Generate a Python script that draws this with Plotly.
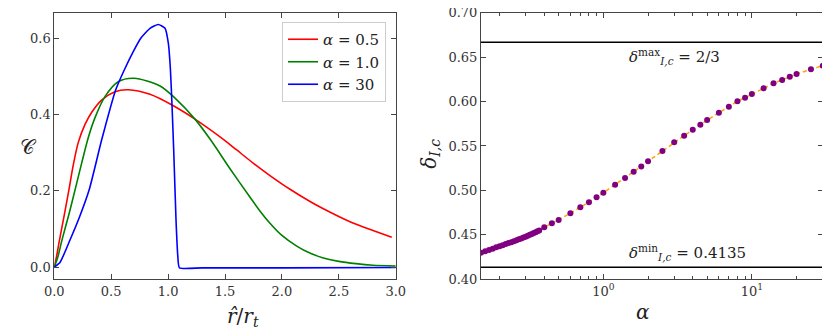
import plotly.graph_objects as go

# left panel: C(r/r_t) for three alpha values
r_05 = [0.0, 0.02, 0.044, 0.088, 0.129, 0.167, 0.211, 0.27, 0.329, 0.416, 0.533, 0.65, 0.841,
        1.046, 1.236, 1.494, 1.603, 1.75, 1.895, 2.071, 2.247, 2.364, 2.598, 2.8, 2.965]
c_05 = [0.0, 0.028, 0.068, 0.137, 0.203, 0.268, 0.327, 0.374, 0.406, 0.438, 0.460, 0.465, 0.453,
        0.423, 0.388, 0.333, 0.307, 0.272, 0.240, 0.204, 0.172, 0.153, 0.119, 0.096, 0.078]

r_10 = [0.0, 0.03, 0.065, 0.13, 0.188, 0.24, 0.299, 0.358, 0.445, 0.562, 0.70, 0.929, 1.061,
        1.236, 1.37, 1.544, 1.72, 1.81, 1.895, 2.0, 2.13, 2.25, 2.364, 2.5, 2.65, 2.8, 3.0]
c_10 = [0.0, 0.025, 0.068, 0.140, 0.209, 0.272, 0.340, 0.392, 0.447, 0.486, 0.495, 0.475, 0.443,
        0.388, 0.335, 0.258, 0.183, 0.146, 0.115, 0.083, 0.055, 0.036, 0.024, 0.015, 0.009,
        0.005, 0.003]

r_30 = [0.0, 0.05, 0.138, 0.22, 0.308, 0.416, 0.54, 0.62, 0.694, 0.76, 0.841, 0.914, 0.973,
        1.002, 1.02, 1.035, 1.05, 1.07, 1.085, 1.10, 1.3, 2.0, 3.0]
c_30 = [0.0, 0.012, 0.071, 0.130, 0.204, 0.333, 0.465, 0.520, 0.565, 0.600, 0.626, 0.636, 0.626,
        0.587, 0.52, 0.42, 0.30, 0.12, 0.03, -0.002, -0.002, -0.002, -0.001]

# right panel: delta_{I,c} vs alpha
alpha = [0.15, 0.16, 0.17, 0.18, 0.19, 0.20, 0.21, 0.22, 0.23, 0.24, 0.25, 0.26, 0.27, 0.28,
         0.29, 0.30, 0.31, 0.32, 0.33, 0.34, 0.35, 0.36, 0.37,
         0.4, 0.45, 0.5, 0.6, 0.7, 0.8, 0.9, 1.0, 1.2, 1.4, 1.6, 1.8, 2.0, 2.5, 3.0, 3.5,
         4.0, 4.5, 5.0, 6.0, 7.0, 8.0, 9.0, 10.0, 12.0, 14.0, 16.0, 18.0, 20.0, 25.0, 30.0]
delta = [0.4300, 0.4315, 0.4330, 0.4345, 0.4360, 0.4372, 0.4384, 0.4396, 0.4407, 0.4418,
         0.4429, 0.4440, 0.4450, 0.4460, 0.4470, 0.4480, 0.4490, 0.4500, 0.4510, 0.4520,
         0.4530, 0.4540, 0.4550,
         0.4585, 0.4630, 0.4668, 0.4743, 0.4810, 0.4866, 0.4923, 0.4975, 0.5065, 0.5140,
         0.5210, 0.5270, 0.5328, 0.5444, 0.5541, 0.5616, 0.5684, 0.5740, 0.5793, 0.5875,
         0.5943, 0.6003, 0.6044, 0.6085, 0.6149, 0.6205, 0.6243, 0.6280, 0.6310, 0.6363, 0.6404]
delta_max = 2 / 3
delta_min = 0.4135

FONT = "DejaVu Serif"

fig = go.Figure()
fig.add_trace(go.Scatter(x=r_05, y=c_05, mode="lines", name="<i>α</i> = 0.5",
                         line=dict(color="#ff0000", width=1.6, shape="spline", smoothing=0.8)))
fig.add_trace(go.Scatter(x=r_10, y=c_10, mode="lines", name="<i>α</i> = 1.0",
                         line=dict(color="#008000", width=1.6, shape="spline", smoothing=0.8)))
fig.add_trace(go.Scatter(x=r_30, y=c_30, mode="lines", name="<i>α</i> = 30",
                         line=dict(color="#0000ff", width=1.6, shape="spline", smoothing=0.5)))

fig.add_trace(go.Scatter(x=alpha, y=delta, mode="lines", showlegend=False,
                         line=dict(color="#ffa500", width=1.5, dash="4px,3px"),
                         xaxis="x2", yaxis="y2"))
fig.add_trace(go.Scatter(x=alpha, y=delta, mode="markers", showlegend=False,
                         marker=dict(color="#800080", size=6),
                         xaxis="x2", yaxis="y2"))
for v in (delta_max, delta_min):
    fig.add_trace(go.Scatter(x=[0.15, 30], y=[v, v], mode="lines", showlegend=False,
                             line=dict(color="black", width=1.6),
                             xaxis="x2", yaxis="y2"))

axis = dict(showline=True, linecolor="#444", linewidth=1, mirror="ticks", automargin=False,
            ticks="inside", ticklen=5, tickcolor="#444", showgrid=False, zeroline=False,
            ticklabeloverflow="allow",
            tickfont=dict(family=FONT, size=13, color="#333"))

minor_log = [0.2, 0.3, 0.4, 0.5, 0.6, 0.7, 0.8, 0.9, 2, 3, 4, 5, 6, 7, 8, 9, 20, 30]

# the page body has an 8px margin, so the figure is 822x324 starting at (8, 8)
fig.update_layout(
    width=822, height=324,
    margin=dict(l=0, r=0, t=0, b=0),
    plot_bgcolor="white", paper_bgcolor="white",
    font=dict(family=FONT, color="#222"),
    xaxis=dict(axis, domain=[0.0563, 0.4717], range=[0, 3], tickvals=[0, 0.5, 1, 1.5, 2, 2.5, 3],
               ticktext=["0.0", "0.5", "1.0", "1.5", "2.0", "2.5", "3.0"]),
    yaxis=dict(axis, domain=[0.1627, 0.9855], range=[-0.032, 0.667], tickvals=[0, 0.2, 0.4, 0.6],
               ticktext=["0.0", "0.2", "0.4", "0.6"]),
    xaxis2=dict(axis, domain=[0.5754, 0.9911], type="log", range=[-0.824, 1.477],
                tickvals=[1, 10], ticktext=["10<sup>0</sup>", "10<sup>1</sup>"],
                minor=dict(ticks="inside", ticklen=3, tickcolor="#444", tickvals=minor_log),
                anchor="y2"),
    yaxis2=dict(axis, domain=[0.1627, 0.9855], range=[0.40, 0.70], anchor="x2",
                tickvals=[0.40, 0.45, 0.50, 0.55, 0.60, 0.65, 0.70],
                ticktext=["0.40", "0.45", "0.50", "0.55", "0.60", "0.65", "0.70"]),
    legend=dict(x=0.4599, y=0.9568, xanchor="right", yanchor="top",
                bordercolor="#ccc", borderwidth=1, bgcolor="rgba(255,255,255,0.8)",
                font=dict(family=FONT, size=15)),
    showlegend=True,
)

# axis titles
titles = [
    (0.264, 0.0, "<i>r̂</i>/<i>r</i><sub><i>t</i></sub>", 0),
    (0.783, 0.020, "<i>α</i>", 0),
    (0.0122, 0.571, "𝒞", 0),
    (0.5134, 0.55, "<i>δ</i><sub><i>I,c</i></sub>", -90),
]
for x, y, t, ang in titles:
    fig.add_annotation(x=x, y=y, xref="paper", yref="paper", text=t, showarrow=False,
                       textangle=ang, font=dict(family=FONT, size=20, color="#222"))

fig.add_annotation(x=0.162, y=delta_max, xref="x2", yref="y2", xanchor="left", yanchor="top",
                   text="<i>δ</i><sup>max</sup><sub><i>I,c</i></sub> = 2/3", showarrow=False,
                   font=dict(family=FONT, size=15, color="#222"), yshift=-2)
fig.add_annotation(x=0.162, y=delta_min, xref="x2", yref="y2", xanchor="left", yanchor="bottom",
                   text="<i>δ</i><sup>min</sup><sub><i>I,c</i></sub> = 0.4135", showarrow=False,
                   font=dict(family=FONT, size=15, color="#222"), yshift=2)

fig.write_html("out.html")
